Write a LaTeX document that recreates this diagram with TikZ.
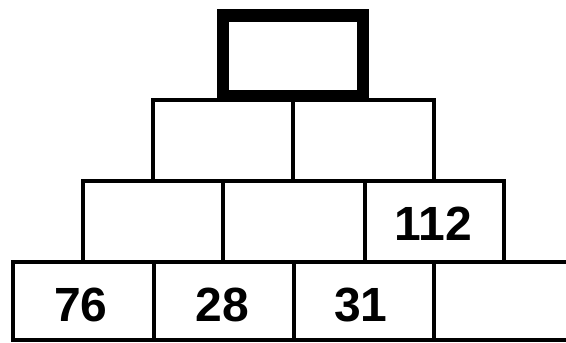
\documentclass[tikz,border=0pt]{standalone}
\usepackage{fontspec}
\setmainfont{Liberation Sans}
\usetikzlibrary{fit}
\begin{document}
\begin{tikzpicture}[x=1pt,y=-1pt,
  cell/.style={draw=black,line width=4pt,inner sep=0pt,outer sep=0pt},
  topcell/.style={cell,line width=12.5pt},
  num/.style={anchor=base,inner sep=0pt,outer sep=0pt,
    font=\bfseries\fontsize{48}{48}\selectfont,text=black},
  edge/.style={draw=black,line width=4pt}]
\useasboundingbox[fill=white] (0,0) rectangle (566,343);
% row 4 (bottom)
\node[cell,fit={(13,261.5) (154,340)}] (a4) {};
\node[cell,fit={(154,261.5) (294,340)}] (b4) {};
\node[cell,fit={(294,261.5) (434,340)}] (c4) {};
\coordinate (r4t) at (566,261.5);
\coordinate (r4b) at (566,340);
\draw[edge] (c4.north east) -- (r4t);
\draw[edge] (c4.south east) -- (r4b);
% row 3
\node[cell,fit={(83,181) (223,261.5)}] (a3) {};
\node[cell,fit={(223,181) (365,261.5)}] (b3) {};
\node[cell,fit={(365,181) (504,261.5)}] (c3) {};
% row 2
\node[cell,fit={(153,100) (293,181)}] (a2) {};
\node[cell,fit={(293,100) (434,181)}] (b2) {};
% top
\node[topcell,fit={(223,15.5) (363,96)}] (a1) {};
% numbers
\node[num] (t76) at (81,321.7) {76};
\node[num] (t28) at (222.5,321.7) {28};
\node[num] (t31) at (361,321.7) {31};
\node[num] (t112) at (433.5,240) {112};
\end{tikzpicture}
\end{document}
